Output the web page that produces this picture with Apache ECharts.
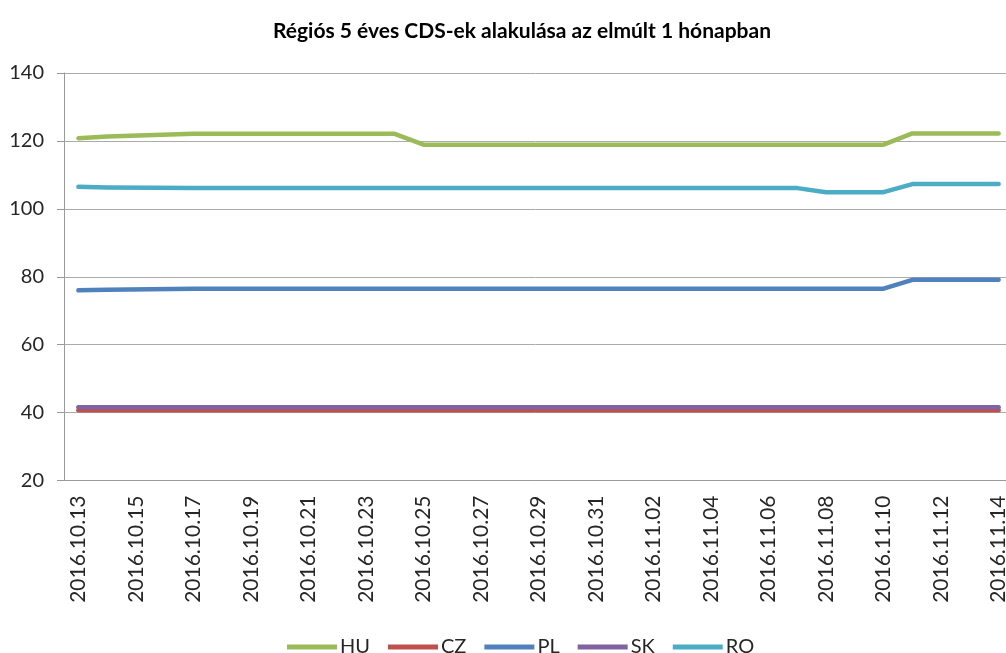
<!DOCTYPE html>
<html>
<head>
<meta charset="utf-8">
<script src="https://cdn.jsdelivr.net/npm/echarts@6/dist/echarts.min.js"></script>
<style>
  html, body { margin: 0; padding: 0; background: #fff; }
  #cdschart { width: 1006px; height: 653px; }
</style>
</head>
<body>
<div id="cdschart"></div>
<script>
// naptári napok (hétvégén nincs adat, a vonal összeköti)
var days = [
    '2016.10.13', '2016.10.14', '2016.10.15', '2016.10.16', '2016.10.17', '2016.10.18',
    '2016.10.19', '2016.10.20', '2016.10.21', '2016.10.22', '2016.10.23', '2016.10.24',
    '2016.10.25', '2016.10.26', '2016.10.27', '2016.10.28', '2016.10.29', '2016.10.30',
    '2016.10.31', '2016.11.01', '2016.11.02', '2016.11.03', '2016.11.04', '2016.11.05',
    '2016.11.06', '2016.11.07', '2016.11.08', '2016.11.09', '2016.11.10', '2016.11.11',
    '2016.11.12', '2016.11.13', '2016.11.14'
];
var seriesNames = ['HU', 'CZ', 'PL', 'SK', 'RO'];
var colors = ['#9BBB59', '#C0504D', '#4F81BD', '#8064A2', '#4BACC6'];
var N = null;
var hu = [120.8, 121.3, N, N, 122.1, 122.1, 122.1, 122.1, 122.1, N, N, 122.1,
          118.9, 118.9, 118.9, 118.9, N, N, 118.9, 118.9, 118.9, 118.9, 118.9, N,
          N, 118.9, 118.9, 118.9, 118.9, 122.2, N, N, 122.2];
var cz = [40.7, 40.7, N, N, 40.7, 40.7, 40.7, 40.7, 40.7, N, N, 40.7,
          40.7, 40.7, 40.7, 40.7, N, N, 40.7, 40.7, 40.7, 40.7, 40.7, N,
          N, 40.7, 40.7, 40.7, 40.7, 40.7, N, N, 40.7];
var pl = [76.0, 76.2, N, N, 76.5, 76.5, 76.5, 76.5, 76.5, N, N, 76.5,
          76.5, 76.5, 76.5, 76.5, N, N, 76.5, 76.5, 76.5, 76.5, 76.5, N,
          N, 76.5, 76.5, 76.5, 76.5, 79.1, N, N, 79.1];
var sk = [41.6, 41.6, N, N, 41.6, 41.6, 41.6, 41.6, 41.6, N, N, 41.6,
          41.6, 41.6, 41.6, 41.6, N, N, 41.6, 41.6, 41.6, 41.6, 41.6, N,
          N, 41.6, 41.6, 41.6, 41.6, 41.6, N, N, 41.6];
var ro = [106.5, 106.3, N, N, 106.1, 106.1, 106.1, 106.1, 106.1, N, N, 106.1,
          106.1, 106.1, 106.1, 106.1, N, N, 106.1, 106.1, 106.1, 106.1, 106.1, N,
          N, 106.1, 104.9, 104.9, 104.9, 107.3, N, N, 107.3];
var values = [hu, cz, pl, sk, ro];

var font = 'Lato, "Open Sans", sans-serif';
var chart = echarts.init(document.getElementById('cdschart'));
var option = {
    backgroundColor: '#fff',
    animation: false,
    title: {
        text: 'Régiós 5 éves CDS-ek alakulása az elmúlt 1 hónapban',
        left: 268,
        top: 16,
        textStyle: { fontFamily: font, fontSize: 21, fontWeight: 'bold', color: '#000' }
    },
    legend: {
        left: 282,
        top: 632,
        icon: 'rect',
        itemWidth: 50,
        itemHeight: 5,
        itemGap: 18,
        textStyle: { fontFamily: font, fontSize: 20, color: '#262626', padding: [0, 0, 0, -2] },
        data: seriesNames
    },
    grid: {
        left: 64,
        right: -7,
        top: 73,
        bottom: 172.5,
        outerBoundsMode: 'none'
    },
    xAxis: {
        type: 'category',
        data: days,
        boundaryGap: true,
        axisLine: { lineStyle: { color: '#9a9a9a', width: 1 } },
        axisTick: { interval: 1, length: 7, lineStyle: { color: '#9a9a9a' } },
        axisLabel: {
            interval: 1,
            rotate: 90,
            margin: 15,
            fontFamily: font,
            fontSize: 21,
            color: '#262626'
        }
    },
    yAxis: {
        type: 'value',
        min: 20,
        max: 140,
        interval: 20,
        axisLine: { show: true, lineStyle: { color: '#9a9a9a', width: 1 } },
        axisTick: { show: true, length: 7, lineStyle: { color: '#9a9a9a' } },
        axisLabel: { margin: 20, fontFamily: font, fontSize: 20, color: '#262626' },
        splitLine: { lineStyle: { color: '#ababab', width: 1 } }
    },
    series: seriesNames.map(function (name, i) {
        return {
            name: name,
            type: 'line',
            data: values[i],
            connectNulls: true,
            showSymbol: false,
            symbol: 'none',
            color: colors[i],
            lineStyle: { width: 4.5, color: colors[i], cap: 'round', join: 'round' }
        };
    })
};
option && chart.setOption(option);
</script>
</body>
</html>
